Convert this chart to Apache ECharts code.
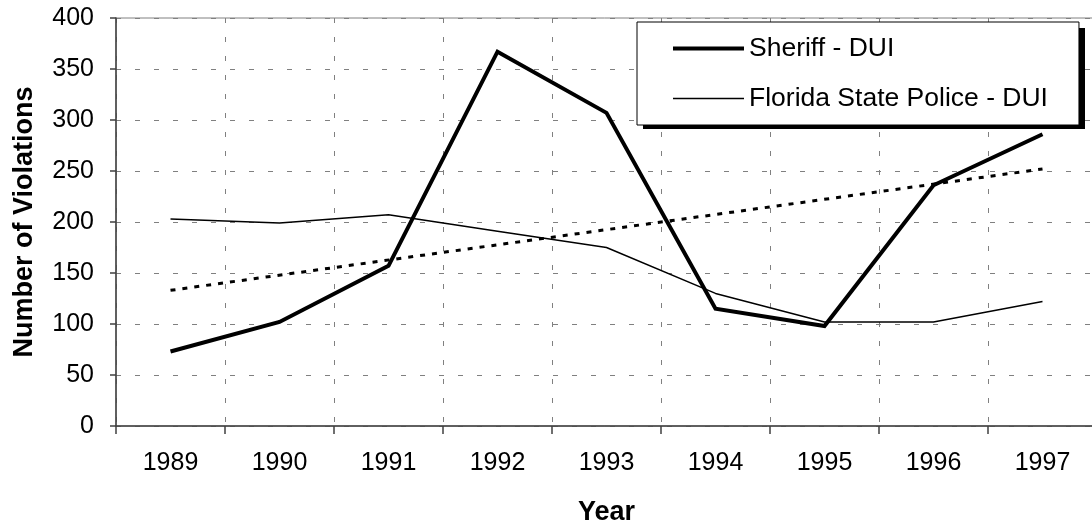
<!DOCTYPE html>
<html>
<head>
<meta charset="utf-8">
<title>DUI Violations 1989-1997</title>
<script src="https://cdn.jsdelivr.net/npm/echarts@6/dist/echarts.min.js"></script>
<style>
  html, body { margin: 0; padding: 0; background: #fff; }
  #chart { width: 1092px; height: 527px; }
</style>
</head>
<body>
<div id="chart"></div>
<script>
// Years on the horizontal axis
const years = ['1989', '1990', '1991', '1992', '1993', '1994', '1995', '1996', '1997'];

// DUI violations per year
const sheriffDUI = [73, 102, 157, 367, 307, 115, 98, 236, 286];
const floridaStatePoliceDUI = [203, 199, 207, 191, 175, 130, 102, 102, 122];

// Linear trend of the Sheriff series: value at the first and last year
const sheriffTrendEnds = [133, 252];

// Vertical axis scale
const yTicks = { min: 0, max: 400, step: 50 };

const seriesNames = ['Sheriff - DUI', 'Florida State Police - DUI'];

const FONT = '"Liberation Sans", Arial, Helvetica, sans-serif';
const GRID_COLOR = '#808080';
const AXIS_COLOR = '#404040';

// Legend box placement (the drop shadow sits behind it, offset down-right)
const LEGEND_BOX = { left: 637, top: 22, width: 442, height: 101, shadow: 6 };

const chart = echarts.init(document.getElementById('chart'), null, { renderer: 'canvas' });

chart.setOption({
  animation: false,
  backgroundColor: '#ffffff',
  grid: {
    left: 116,
    top: 18,
    right: -5,
    bottom: 101,
    outerBoundsMode: 'none',
    containLabel: false,
    show: true,
    borderColor: GRID_COLOR,
    borderWidth: 1,
    backgroundColor: 'transparent'
  },
  graphic: [
    {
      type: 'rect',
      left: LEGEND_BOX.left + LEGEND_BOX.shadow,
      top: LEGEND_BOX.top + LEGEND_BOX.shadow,
      shape: { width: LEGEND_BOX.width, height: LEGEND_BOX.height },
      style: { fill: '#000000' },
      z: 5,
      silent: true
    }
  ],
  legend: {
    show: true,
    orient: 'vertical',
    left: LEGEND_BOX.left,
    top: LEGEND_BOX.top,
    padding: [13, 31, 13, 34],
    itemGap: 23,
    itemWidth: 71,
    itemHeight: 14,
    backgroundColor: '#ffffff',
    borderColor: '#000000',
    borderWidth: 1,
    borderRadius: 0,
    selectedMode: false,
    z: 10,
    textStyle: {
      fontFamily: FONT,
      fontSize: 26.5,
      color: '#000'
    },
    data: [
      { name: seriesNames[0], lineStyle: { width: 4, color: '#000' }, itemStyle: { color: 'rgba(0,0,0,0)', borderWidth: 0, opacity: 0 } },
      { name: seriesNames[1], lineStyle: { width: 1.5, color: '#000' }, itemStyle: { color: 'rgba(0,0,0,0)', borderWidth: 0, opacity: 0 } }
    ]
  },
  xAxis: {
    type: 'category',
    data: years,
    boundaryGap: true,
    name: 'Year',
    nameLocation: 'middle',
    nameGap: 73,
    nameTextStyle: { fontFamily: FONT, fontSize: 27, fontWeight: 'bold', color: '#000' },
    axisLine: { show: true, lineStyle: { color: AXIS_COLOR, width: 1.5 } },
    axisTick: { show: true, inside: false, length: 8, alignWithLabel: false, lineStyle: { color: AXIS_COLOR, width: 1.5 } },
    axisLabel: { fontFamily: FONT, fontSize: 25, color: '#000', margin: 25 },
    splitLine: { show: true, lineStyle: { color: GRID_COLOR, width: 1, type: [5, 14] } }
  },
  yAxis: {
    type: 'value',
    min: yTicks.min,
    max: yTicks.max,
    interval: yTicks.step,
    name: 'Number of Violations',
    nameLocation: 'middle',
    nameRotate: 90,
    nameGap: 78,
    nameTextStyle: { fontFamily: FONT, fontSize: 27, fontWeight: 'bold', color: '#000' },
    axisLine: { show: true, lineStyle: { color: AXIS_COLOR, width: 1.5 } },
    axisTick: { show: true, inside: false, length: 6, lineStyle: { color: AXIS_COLOR, width: 1.5 } },
    axisLabel: { fontFamily: FONT, fontSize: 25, color: '#000', margin: 22 },
    splitLine: { show: true, lineStyle: { color: GRID_COLOR, width: 1, type: [5, 14] } }
  },
  series: [
    {
      name: 'Sheriff trend',
      type: 'line',
      data: [[years[0], sheriffTrendEnds[0]], [years[years.length - 1], sheriffTrendEnds[1]]],
      symbol: 'none',
      silent: true,
      lineStyle: { color: '#000', width: 3, type: [5, 7], cap: 'butt' },
      z: 3
    },
    {
      name: seriesNames[1],
      type: 'line',
      data: floridaStatePoliceDUI,
      symbol: 'none',
      itemStyle: { color: '#000' },
      lineStyle: { color: '#000', width: 1.5 },
      z: 4
    },
    {
      name: seriesNames[0],
      type: 'line',
      data: sheriffDUI,
      symbol: 'none',
      itemStyle: { color: '#000' },
      lineStyle: { color: '#000', width: 4, join: 'miter' },
      z: 5
    }
  ]
});
</script>
</body>
</html>
